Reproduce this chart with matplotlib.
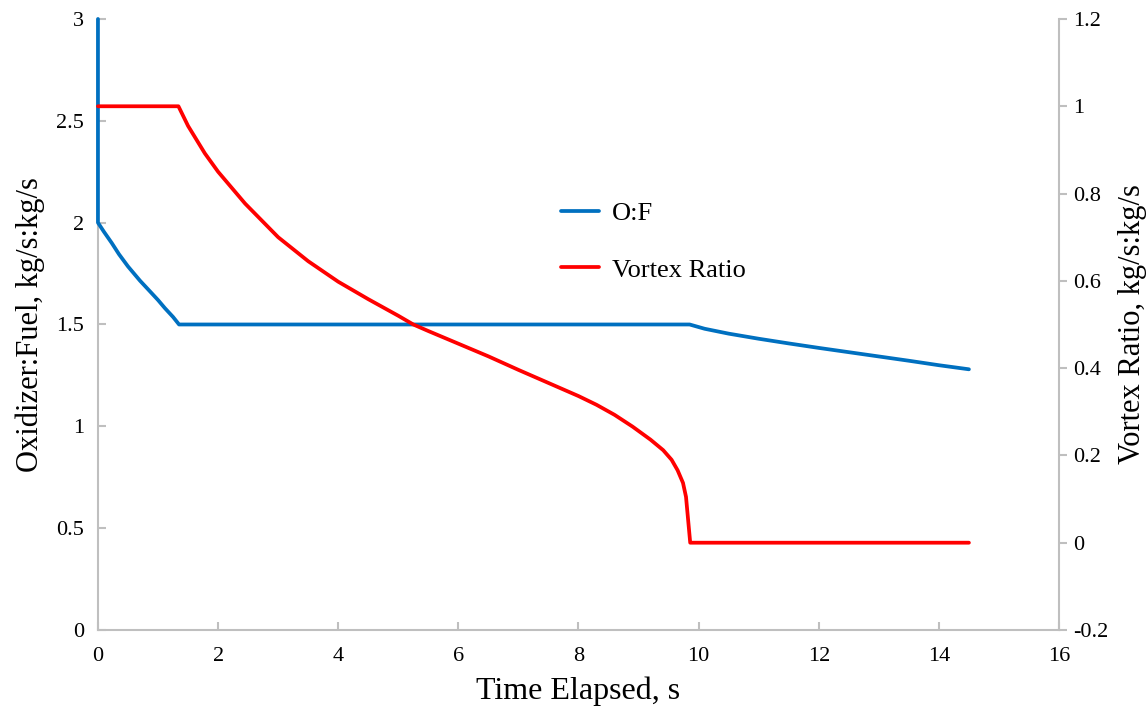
import numpy as np
from matplotlib import pyplot as plt

plt.rcParams['font.family'] = ['Liberation Serif', 'DejaVu Serif']

# O:F ratio over the burn
of_t = [0.0, 0.0, 0.1, 0.23, 0.35, 0.5, 0.7, 0.89, 1.0, 1.115, 1.25, 1.35, 5.0, 9.85,
        10.1, 10.5, 11.0, 11.5, 12.0, 12.5, 13.0, 13.5, 14.0, 14.5]
of_val = [3.0, 2.0, 1.955, 1.90, 1.845, 1.785, 1.715, 1.655, 1.62, 1.58, 1.537, 1.50, 1.50, 1.50,
          1.479, 1.455, 1.43, 1.407, 1.385, 1.364, 1.343, 1.322, 1.30, 1.28]

# vortex ratio over the burn
vr_t = [0.0, 1.34, 1.5, 1.78, 2.0, 2.45, 3.0, 3.5, 4.0, 4.5, 5.0, 5.25, 5.5, 6.0, 6.5, 7.0, 7.5,
        8.0, 8.3, 8.6, 8.9, 9.2, 9.41, 9.55, 9.65, 9.74, 9.79, 9.82, 9.84, 9.86, 12.0, 14.5]
vr_val = [1.0, 1.0, 0.955, 0.892, 0.85, 0.777, 0.70, 0.645, 0.598, 0.558, 0.52, 0.50, 0.485, 0.456,
          0.427, 0.396, 0.366, 0.336, 0.316, 0.293, 0.266, 0.236, 0.212, 0.19, 0.166, 0.137, 0.105,
          0.06, 0.03, 0.0, 0.0, 0.0]

x_ticks = np.arange(0, 17, 2)
left_ticks = [0, 0.5, 1, 1.5, 2, 2.5, 3]
right_ticks = [-0.2, 0, 0.2, 0.4, 0.6, 0.8, 1, 1.2]

blue = '#0070C0'
red = '#FF0000'
grey = '#BFBFBF'

fig = plt.figure(figsize=(11.47, 7.19), dpi=100)
ax = fig.add_axes([0.0854, 0.1238, 0.8379, 0.8498])
ax2 = ax.twinx()

l1, = ax.plot(of_t, of_val, color=blue, lw=2.7, label='O:F', solid_capstyle='round',
              clip_on=False, zorder=3)
l2, = ax2.plot(vr_t, vr_val, color=red, lw=2.7, label='Vortex Ratio', solid_capstyle='round',
               clip_on=False, zorder=3)

ax.set_xlim(0, 16)
ax.set_ylim(0, 3)
ax2.set_ylim(-0.2, 1.2)
ax.set_xticks(x_ticks)
ax.set_yticks(left_ticks)
ax.set_yticklabels(['0', '0.5', '1', '1.5', '2', '2.5', '3'])
ax2.set_yticks(right_ticks)
ax2.set_yticklabels(['-0.2', '0', '0.2', '0.4', '0.6', '0.8', '1', '1.2'])

for a in (ax, ax2):
    a.spines['top'].set_visible(False)
    for s in ('left', 'right', 'bottom'):
        a.spines[s].set_color(grey)
        a.spines[s].set_linewidth(1.5)
ax.spines['right'].set_visible(False)
ax2.spines['left'].set_visible(False)
ax2.spines['bottom'].set_visible(False)

ax.tick_params(axis='both', direction='in', length=6, width=1.5, color=grey, labelsize=16)
ax.tick_params(axis='x', pad=12)
ax.tick_params(axis='y', pad=10)
ax2.tick_params(axis='y', direction='out', length=6, width=1.5, color=grey, labelsize=16, pad=4)

ax.set_xlabel('Time Elapsed, s', fontsize=23, labelpad=8)
ax.set_ylabel('Oxidizer:Fuel, kg/s:kg/s', fontsize=22, labelpad=8)
ax2.set_ylabel('Vortex Ratio, kg/s:kg/s', fontsize=22, labelpad=7)

ax2.legend(handles=[l1, l2], loc='upper left', bbox_to_anchor=(0.457, 0.74), frameon=False,
           fontsize=19, handlelength=1.45, handletextpad=0.5, labelspacing=1.25)

fig.savefig('out.png', dpi=100)
